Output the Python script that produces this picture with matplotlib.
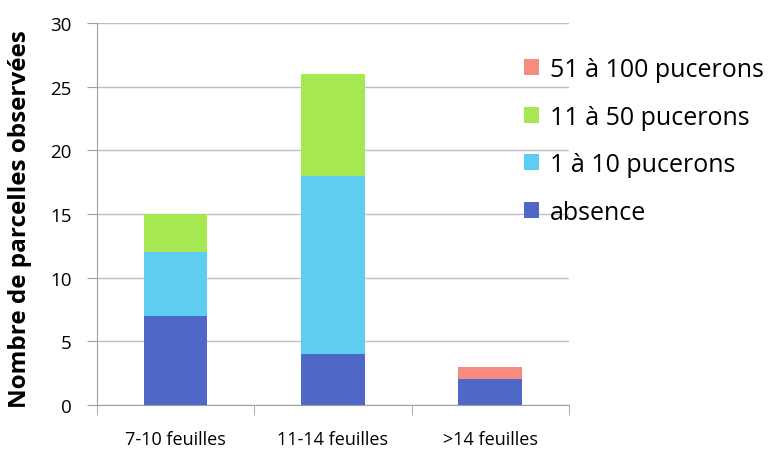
import numpy as np
import matplotlib.pyplot as plt
from matplotlib.ticker import FixedLocator, NullFormatter

categories = ['7-10 feuilles', '11-14 feuilles', '>14 feuilles']
series_names = ['absence', '1 à 10 pucerons', '11 à 50 pucerons', '51 à 100 pucerons']
absence = [7, 4, 2]
p1_10 = [5, 14, 0]
p11_50 = [3, 8, 0]
p51_100 = [0, 0, 1]
couleurs = ['#4F67C6', '#5FCDF2', '#A6E851', '#F68C7E']

plt.rcParams['font.family'] = ['Open Sans', 'DejaVu Sans']

fig = plt.figure(figsize=(7.74, 4.52), dpi=100)
ax = fig.add_axes([0.125, 0.102, 0.61, 0.845])

x = np.arange(len(categories))
bottom = np.zeros(len(categories))
handles = []
for vals, nom, c in zip([absence, p1_10, p11_50, p51_100], series_names, couleurs):
    b = ax.bar(x, vals, width=0.405, bottom=bottom, color=c, label=nom, zorder=3)
    handles.append(b)
    bottom += np.array(vals)

ax.set_xlim(-0.5, 2.5)
ax.set_ylim(0, 30)
ax.set_yticks(range(0, 31, 5))
ax.yaxis.grid(True, color='#BFBFBF', linewidth=1, zorder=0)
ax.set_xticks(x)
ax.set_xticklabels(categories, fontsize=13)
ax.xaxis.set_minor_locator(FixedLocator([-0.5, 0.5, 1.5, 2.5]))
ax.xaxis.set_minor_formatter(NullFormatter())
ax.tick_params(axis='x', which='major', length=0, pad=18)
ax.tick_params(axis='x', which='minor', length=7, color='#A0A0A0')
ax.tick_params(axis='y', length=7, color='#A0A0A0', labelsize=13.5, pad=11)
for s in ['top', 'right']:
    ax.spines[s].set_visible(False)
ax.spines['left'].set_color('#A0A0A0')
ax.spines['bottom'].set_color('#A0A0A0')
ax.set_ylabel('Nombre de parcelles observées', fontsize=17.5, fontweight='bold')
ax.yaxis.set_label_coords(-0.137, 0.49)

leg = fig.legend(handles[::-1], series_names[::-1], loc='upper left',
                 bbox_to_anchor=(0.648, 0.921), frameon=False, fontsize=18,
                 handlelength=0.6, handleheight=0.6, handletextpad=0.42, labelspacing=0.9)

plt.savefig('out.png', dpi=100)
